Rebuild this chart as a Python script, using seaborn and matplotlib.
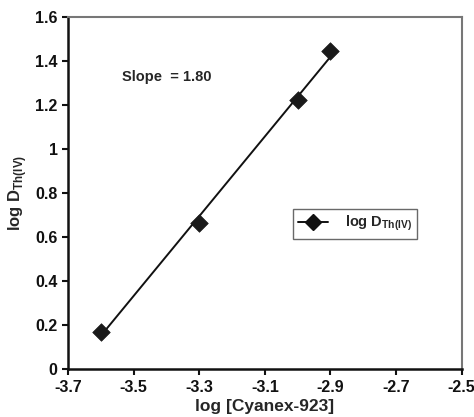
import numpy as np
import pandas as pd
import matplotlib
matplotlib.use("Agg")
import matplotlib.pyplot as plt
import seaborn as sns
from matplotlib.lines import Line2D

# data
log_cyanex = [-3.6, -3.3, -3.0, -2.9]
log_d_th = [0.171, 0.665, 1.222, 1.444]
x_ticks = [-3.7, -3.5, -3.3, -3.1, -2.9, -2.7, -2.5]
y_ticks = [0, 0.2, 0.4, 0.6, 0.8, 1, 1.2, 1.4, 1.6]
y_tick_labels = ["0", "0.2", "0.4", "0.6", "0.8", "1", "1.2", "1.4", "1.6"]

sns.set_style("white")
plt.rcParams["font.family"] = ["Liberation Sans", "DejaVu Sans"]
plt.rcParams["font.weight"] = "bold"
plt.rcParams["mathtext.fontset"] = "custom"
plt.rcParams["mathtext.rm"] = "Liberation Sans:bold"
plt.rcParams["mathtext.bf"] = "Liberation Sans:bold"

df = pd.DataFrame({"x": log_cyanex, "y": log_d_th})

fig = plt.figure(figsize=(4.74, 4.17), dpi=100)
ax = fig.add_axes([68 / 474, 1 - 369.3 / 417, 393.7 / 474, 352.6 / 417])

sns.regplot(data=df, x="x", y="y", ax=ax, ci=None, truncate=True,
            marker="D", color="#1a1a1a",
            scatter_kws={"s": 80, "alpha": 1, "edgecolor": "#1a1a1a",
                         "linewidths": 0.5, "zorder": 3},
            line_kws={"lw": 1.4, "color": "#111111"})

ax.set_xlim(-3.7, -2.5)
ax.set_ylim(0, 1.6)
ax.set_xticks(x_ticks)
ax.set_xticklabels([f"{t:.1f}" for t in x_ticks])
ax.set_yticks(y_ticks)
ax.set_yticklabels(y_tick_labels)
ax.tick_params(axis="both", direction="out", length=4, width=1.5,
               labelsize=11.5, colors="#111111", bottom=True, left=True)
for lab in ax.get_xticklabels() + ax.get_yticklabels():
    lab.set_fontweight("bold")

for side in ["left", "bottom"]:
    ax.spines[side].set_color("#111111")
    ax.spines[side].set_linewidth(1.8)
for side in ["top", "right"]:
    ax.spines[side].set_color("#777777")
    ax.spines[side].set_linewidth(1.5)

ax.set_xlabel("log [Cyanex-923]", fontsize=12.5, fontweight="bold", labelpad=3)
ax.set_ylabel(r"log D$_{\rm Th(IV)}$", fontsize=12, fontweight="bold")
ax.yaxis.set_label_coords(-0.099, 0.5)

ax.text(-3.535, 1.326, "Slope  = 1.80", fontsize=10.5, fontweight="bold",
        va="center", ha="left")

handle = Line2D([], [], color="#111111", lw=1.4, marker="D", markersize=8)
leg = ax.legend([handle], [r"log D$_{\rm Th(IV)}$"], loc="center",
                bbox_to_anchor=(0.73, 0.413), frameon=True, fancybox=False,
                handlelength=2.0, handletextpad=1.2, fontsize=10.5,
                borderpad=0.35, borderaxespad=0)
leg.get_frame().set_edgecolor("#444444")
leg.get_frame().set_linewidth(1.0)

fig.savefig("out.png", dpi=100)
